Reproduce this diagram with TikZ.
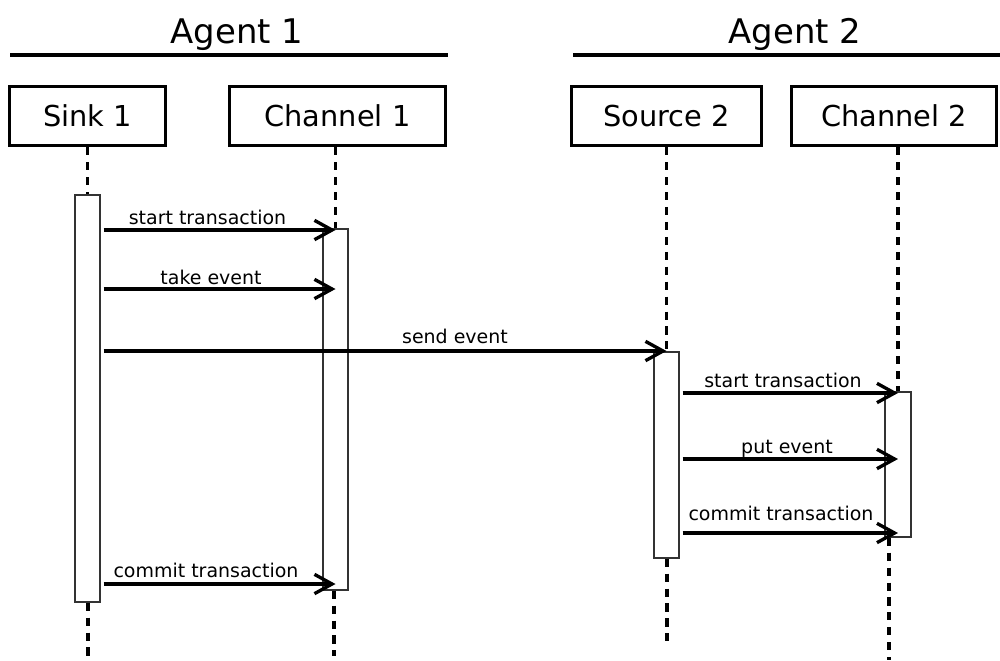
\documentclass[tikz,border=0pt]{standalone}
\usepackage{fontspec}
\setmainfont{DejaVu Sans}
\usetikzlibrary{arrows.meta}
\begin{document}
\begin{tikzpicture}[x=0.02cm,y=-0.02cm]
		\tikzset{head/.style = {shape=rectangle,draw,line width=2pt,inner sep=0pt,minimum height=1.18cm,font=\fontsize{16.4}{18}\selectfont}}
		\tikzset{act/.style = {shape=rectangle,draw=black!80,fill=white,line width=0.8pt,inner sep=0pt,minimum width=0.5cm}}
		\tikzset{lifeline/.style = {line width=2.2pt,dash pattern=on 4.6pt off 3.9pt}}
		\tikzset{msg/.style = {line width=1.9pt,shorten <=1.7pt,-{Straight Barb[length=10pt,width=11pt]}}}
		\tikzset{msglabel/.style = {anchor=base,inner sep=0pt,font=\fontsize{10.8}{12}\selectfont}}
		\tikzset{agent/.style = {anchor=base,inner sep=0pt,font=\fontsize{19.3}{22}\selectfont}}

		\useasboundingbox (0,0) rectangle (1000,660);

		\node[agent] (agent1) at (237,43) {Agent 1};
		\node[agent] (agent2) at (795,43) {Agent 2};
		\draw[line width=1.9pt] (10,55) -- (448,55);
		\draw[line width=1.9pt] (573,55) -- (1000,55);

		\node[head,minimum width=3.12cm] (sink1) at (87.5,116) {Sink 1};
		\node[head,minimum width=4.32cm] (chan1) at (337.5,116) {Channel 1};
		\node[head,minimum width=3.8cm] (src2) at (666.5,116) {Source 2};
		\node[head,minimum width=4.1cm] (chan2) at (894,116) {Channel 2};

		\node[act,minimum height=8.14cm] (sinkA) at (87.5,398.5) {};
		\node[act,minimum height=7.22cm] (chan1A) at (335.5,409.5) {};
		\node[act,minimum height=4.12cm] (src2A) at (666.5,455) {};
		\node[act,minimum width=0.52cm,minimum height=2.9cm] (chan2A) at (898,464.5) {};

		\coordinate (sink1End) at (88,660);
		\coordinate (chan1End) at (334,656);
		\coordinate (src2End) at (667,643);
		\coordinate (chan2End) at (889,660);

		\draw[lifeline] (sinkA.north |- sink1.south) -- (sinkA.north);
		\draw[lifeline] (sink1End |- sinkA.south) -- (sink1End);
		\draw[lifeline] (chan1A.north |- chan1.south) -- (chan1A.north);
		\draw[lifeline] (chan1End |- chan1A.south) -- (chan1End);
		\draw[lifeline] (src2A.north |- src2.south) -- (src2A.north);
		\draw[lifeline] (src2End |- src2A.south) -- (src2End);
		\draw[lifeline] (chan2A.north |- chan2.south) -- (chan2A.north);
		\draw[lifeline] (chan2End |- chan2A.south) -- (chan2End);

		\draw[msg] (sinkA.east |- 0,230) -- (chan1A.center |- 0,230);
		\node[msglabel] (m1) at (207.5,224) {start transaction};
		\draw[msg] (sinkA.east |- 0,289) -- (chan1A.center |- 0,289);
		\node[msglabel] (m2) at (211,284) {take event};
		\draw[msg] (sinkA.east |- 0,351) -- (src2A.center |- 0,351);
		\node[msglabel] (m3) at (455,343) {send event};
		\draw[msg] (src2A.east |- 0,393) -- (chan2A.center |- 0,393);
		\node[msglabel] (m4) at (783,387) {start transaction};
		\draw[msg] (src2A.east |- 0,459) -- (chan2A.center |- 0,459);
		\node[msglabel] (m5) at (787,453) {put event};
		\draw[msg] (src2A.east |- 0,533) -- (chan2A.center |- 0,533);
		\node[msglabel] (m6) at (781,520) {commit transaction};
		\draw[msg] (sinkA.east |- 0,584) -- (chan1A.center |- 0,584);
		\node[msglabel] (m7) at (206,577) {commit transaction};

	\end{tikzpicture}
\end{document}
